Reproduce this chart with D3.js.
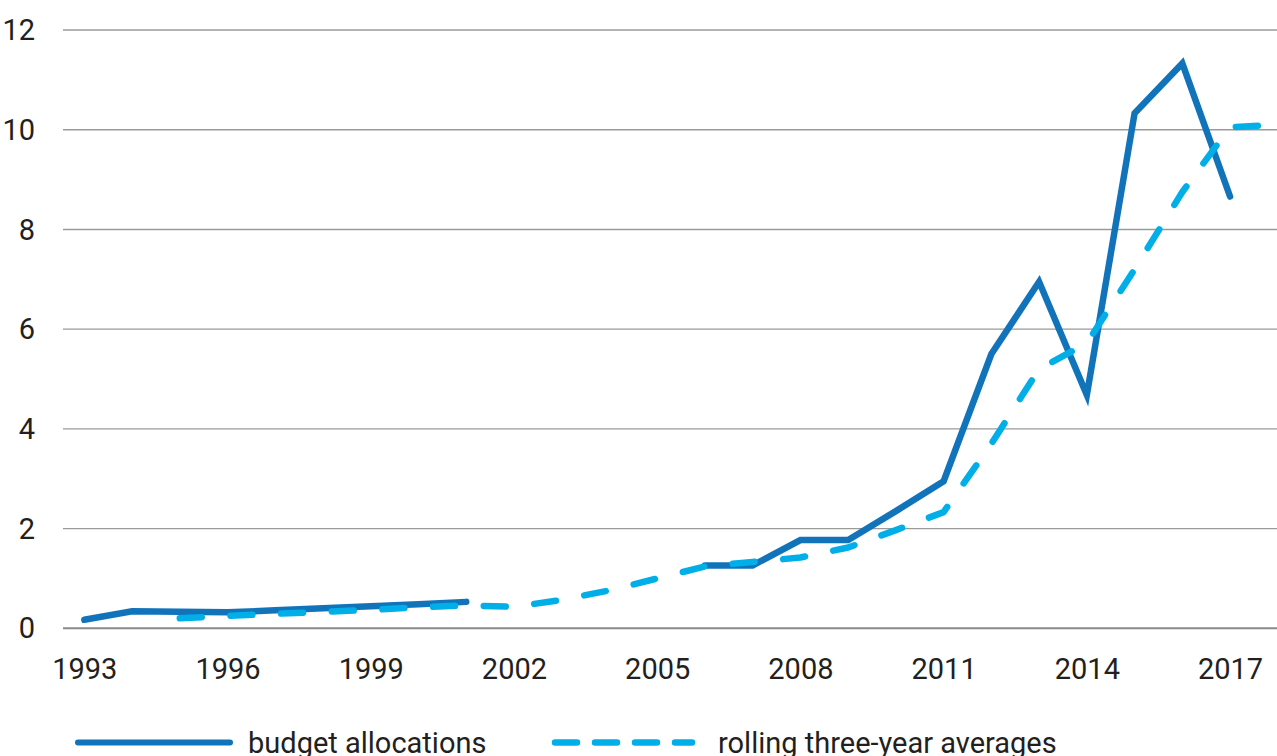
<!DOCTYPE html>
<html>
<head>
<meta charset="utf-8">
<script src="https://cdn.jsdelivr.net/npm/d3@7/dist/d3.min.js"></script>
<style>
  html, body { margin: 0; padding: 0; background: #fff; }
  svg { display: block; }
  text { font-family: Roboto, "Open Sans", sans-serif; fill: #231f20; }
</style>
</head>
<body>
<svg id="chart" width="1277" height="756"></svg>
<script>
// Fiscal years on the horizontal axis
const years = d3.range(1993, 2019);

// Annual budget allocations (null = no allocation reported)
const budgetAllocations = [
  0.17, 0.34, 0.33, 0.32, 0.36, 0.40, 0.44, 0.48, 0.53,
  null, null, null, null,
  1.26, 1.26, 1.77, 1.77, 2.35, 2.95, 5.50, 6.95, 4.68, 10.33, 11.33, 8.66,
  null
];

// Rolling three-year averages of the allocations
const rollingAverages = [
  null, null,
  0.20, 0.25, 0.29, 0.33, 0.37, 0.42, 0.46, 0.43, 0.57, 0.76, 1.00,
  1.24, 1.33, 1.42, 1.62, 1.97, 2.33, 3.70, 5.20, 5.72, 7.20, 8.75, 10.05, 10.10
];

const xTickYears = [1993, 1996, 1999, 2002, 2005, 2008, 2011, 2014, 2017];
const yTicks = [0, 2, 4, 6, 8, 10, 12];

const legendLabels = ["budget allocations", "rolling three-year averages"];

const colors = { budget: "#1174bb", rolling: "#00aee8", grid: "#9a9a9a", axis: "#8a8a8a" };

const svg = d3.select("#chart");

const plotLeft = 63, plotRight = 1277;

const x = d3.scaleLinear().domain([1993, 2018]).range([84.3, 1277.8]);
const y = d3.scaleLinear().domain([0, 12]).range([628.3, 30]);

// Horizontal gridlines
svg.append("g")
  .selectAll("line")
  .data(yTicks.filter(d => d !== 0))
  .join("line")
  .attr("x1", plotLeft).attr("x2", plotRight)
  .attr("y1", d => y(d)).attr("y2", d => y(d))
  .attr("stroke", colors.grid)
  .attr("stroke-width", 1.4);

// Baseline at zero
svg.append("line")
  .attr("x1", plotLeft).attr("x2", plotRight)
  .attr("y1", y(0)).attr("y2", y(0))
  .attr("stroke", colors.axis)
  .attr("stroke-width", 2);

// Y axis labels
const yAxis = d3.axisLeft(y).tickValues(yTicks).tickSize(0).tickPadding(0).tickFormat(d3.format("d"));
const gy = svg.append("g").attr("transform", "translate(35,0)").call(yAxis);
gy.select(".domain").remove();
gy.selectAll("text")
  .attr("font-size", 29)
  .attr("font-family", "Roboto, sans-serif")
  .attr("fill", "#231f20")
  .attr("dy", "0.33em");

// X axis labels
const xAxis = d3.axisBottom(x).tickValues(xTickYears).tickSize(0).tickPadding(0).tickFormat(d3.format("d"));
const gx = svg.append("g").attr("transform", "translate(0,658)").call(xAxis);
gx.select(".domain").remove();
gx.selectAll("text")
  .attr("font-size", 29)
  .attr("font-family", "Roboto, sans-serif")
  .attr("fill", "#231f20")
  .attr("dy", "0.72em");

const budgetSeries = years.map((yr, i) => ({ year: yr, value: budgetAllocations[i] }));
const rollingSeries = years.map((yr, i) => ({ year: yr, value: rollingAverages[i] }));

const line = d3.line()
  .defined(d => d.value !== null)
  .x(d => x(d.year))
  .y(d => y(d.value));

// Budget allocations (solid)
svg.append("path")
  .datum(budgetSeries)
  .attr("d", line)
  .attr("fill", "none")
  .attr("stroke", colors.budget)
  .attr("stroke-width", 6.5)
  .attr("stroke-linejoin", "miter")
  .attr("stroke-linecap", "round");

// Rolling averages (dashed); the dash period is stretched slightly so the
// pattern starts on a dash and finishes on a gap at the right edge
const rollingPath = svg.append("path")
  .datum(rollingSeries)
  .attr("d", line)
  .attr("fill", "none")
  .attr("stroke", colors.rolling)
  .attr("stroke-width", 6.5)
  .attr("stroke-linejoin", "round")
  .attr("stroke-linecap", "round");
const dashLen = 22;
const pathLen = rollingPath.node().getTotalLength();
const periods = Math.round((pathLen - dashLen - 20) / 50);
const period = (pathLen - dashLen - 20) / periods;
rollingPath.attr("stroke-dasharray", `${dashLen},${(period - dashLen).toFixed(2)}`);

// Legend
const legend = svg.append("g");
legend.append("line")
  .attr("x1", 78).attr("x2", 230).attr("y1", 742.5).attr("y2", 742.5)
  .attr("stroke", colors.budget).attr("stroke-width", 6).attr("stroke-linecap", "round");
legend.append("text")
  .attr("x", 248).attr("y", 753)
  .attr("font-size", 29)
  .text(legendLabels[0]);

legend.append("line")
  .attr("x1", 555).attr("x2", 692).attr("y1", 742.5).attr("y2", 742.5)
  .attr("stroke", colors.rolling).attr("stroke-width", 6.5)
  .attr("stroke-dasharray", "22,18").attr("stroke-linecap", "round");
legend.append("text")
  .attr("x", 718).attr("y", 753)
  .attr("font-size", 29)
  .text(legendLabels[1]);
</script>
</body>
</html>
